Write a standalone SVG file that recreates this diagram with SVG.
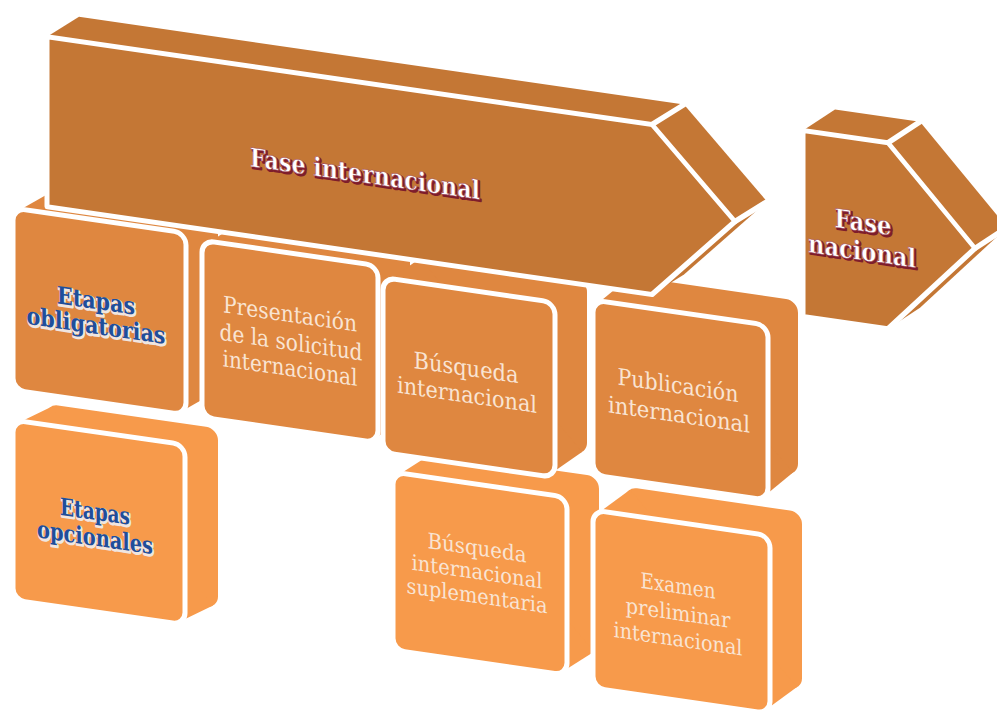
<svg xmlns="http://www.w3.org/2000/svg" width="997" height="710" viewBox="0 0 997 710">
  <style>
    .row1 { fill: #DF8740; }
    .row2 { fill: #F79A4B; }
    .phase { fill: #C47735; }
    .front { stroke: #FFFFFF; stroke-width: 5; stroke-linejoin: round; }
    .edge { fill: none; stroke: #FFFFFF; stroke-width: 5; stroke-linecap: round; }
    .lbl { font-family: "DejaVu Serif", "Liberation Serif", serif; font-size: 23px; fill: #F9E4D3; text-anchor: middle; }
    .sm { font-size: 21.5px; }
    .blue { font-family: "DejaVu Serif", "Liberation Serif", serif; font-weight: bold; font-size: 24px; text-anchor: middle; }
    .blue-sh { fill: #EFE6E0; stroke: #EFE6E0; stroke-width: 2.5; stroke-linejoin: round; }
    .blue-fg { fill: #1F4E9A; }
    .red { font-family: "DejaVu Serif", "Liberation Serif", serif; font-weight: bold; font-size: 26px; text-anchor: middle; }
    .red-sh { fill: #7E1D2B; stroke: #7E1D2B; stroke-width: 2; stroke-linejoin: round; }
    .red-fg { fill: #FFFFFF; stroke: #A04452; stroke-width: 0.5; }
  </style>

  <!-- whole scene is drawn on a sheared plane to give the perspective slope -->
  <g transform="matrix(1 0.145 0 1 0 0)">

    <!-- lower row: optional stages -->
    <g id="etapas-opcionales">
      <rect class="row2" x="46" y="397" width="172" height="180" rx="12"/>
      <polygon class="row2" points="18,420.5 51,399.5 213,574.5 180,595.5"/>
      <rect class="row2 front" x="13" y="418" width="172" height="180" rx="12"/>
      <text class="blue blue-sh" x="96" y="507.5" textLength="70" lengthAdjust="spacingAndGlyphs">Etapas</text>
      <text class="blue blue-fg" x="95" y="506" textLength="70" lengthAdjust="spacingAndGlyphs">Etapas</text>
      <text class="blue blue-sh" x="96" y="533.5" textLength="116" lengthAdjust="spacingAndGlyphs">opcionales</text>
      <text class="blue blue-fg" x="95" y="532" textLength="116" lengthAdjust="spacingAndGlyphs">opcionales</text>
    </g>

    <g id="busqueda-suplementaria">
      <rect class="row2" x="425" y="390" width="174" height="178" rx="12"/>
      <polygon class="row2" points="398,417.5 430,392.5 594,565.5 562,590.5"/>
      <rect class="row2 front" x="393" y="415" width="174" height="178" rx="12"/>
      <text class="lbl sm" x="477" y="486" textLength="99" lengthAdjust="spacingAndGlyphs">Búsqueda</text>
      <text class="lbl sm" x="477" y="510" textLength="131" lengthAdjust="spacingAndGlyphs">internacional</text>
      <text class="lbl sm" x="477" y="534" textLength="141" lengthAdjust="spacingAndGlyphs">suplementaria</text>
    </g>

    <g id="examen-preliminar">
      <rect class="row2" x="625" y="396" width="177" height="178" rx="12"/>
      <polygon class="row2" points="598,426.5 630,398.5 797,571.5 765,599.5"/>
      <rect class="row2 front" x="593" y="424" width="177" height="178" rx="12"/>
      <text class="lbl sm" x="678" y="495" textLength="75" lengthAdjust="spacingAndGlyphs">Examen</text>
      <text class="lbl sm" x="678" y="522" textLength="105" lengthAdjust="spacingAndGlyphs">preliminar</text>
      <text class="lbl sm" x="678" y="548" textLength="129" lengthAdjust="spacingAndGlyphs">internacional</text>
    </g>

    <!-- upper row: mandatory stages -->
    <g id="etapas-obligatorias">
      <rect class="row1" x="45" y="183" width="173" height="182" rx="12"/>
      <polygon class="row1" points="18,208.5 50,185.5 213,362.5 181,385.5"/>
      <rect class="row1 front" x="13" y="206" width="173" height="182" rx="12"/>
      <text class="blue blue-sh" x="97" y="296.5" textLength="78" lengthAdjust="spacingAndGlyphs">Etapas</text>
      <text class="blue blue-fg" x="96" y="295" textLength="78" lengthAdjust="spacingAndGlyphs">Etapas</text>
      <text class="blue blue-sh" x="97" y="321.5" textLength="139" lengthAdjust="spacingAndGlyphs">obligatorias</text>
      <text class="blue blue-fg" x="96" y="320" textLength="139" lengthAdjust="spacingAndGlyphs">obligatorias</text>
    </g>

    <g id="presentacion">
      <rect class="row1" x="234" y="186" width="176" height="177" rx="12"/>
      <polygon class="row1" points="207,213.5 239,188.5 405,360.5 373,385.5"/>
      <rect class="row1 front" x="202" y="211" width="176" height="177" rx="12"/>
      <text class="lbl" x="290" y="280" textLength="134" lengthAdjust="spacingAndGlyphs">Presentación</text>
      <text class="lbl" x="291" y="308" textLength="143" lengthAdjust="spacingAndGlyphs">de la solicitud</text>
      <text class="lbl" x="290" y="334" textLength="135" lengthAdjust="spacingAndGlyphs">internacional</text>
    </g>

    <g id="busqueda-internacional">
      <rect class="row1" x="415" y="195" width="172" height="175" rx="12"/>
      <polygon class="row1" points="388,224.5 420,197.5 582,367.5 550,394.5"/>
      <rect class="row1 front" x="383" y="222" width="172" height="175" rx="12"/>
      <text class="lbl" x="466" y="308" textLength="105" lengthAdjust="spacingAndGlyphs">Búsqueda</text>
      <text class="lbl" x="467" y="335" textLength="140" lengthAdjust="spacingAndGlyphs">internacional</text>
    </g>

    <g id="publicacion">
      <rect class="row1" x="623" y="185" width="175" height="175" rx="12"/>
      <polygon class="row1" points="598,216.5 628,187.5 793,357.5 763,386.5"/>
      <rect class="row1 front" x="593" y="214" width="175" height="175" rx="12"/>
      <text class="lbl" x="678" y="295" textLength="121" lengthAdjust="spacingAndGlyphs">Publicación</text>
      <text class="lbl" x="679" y="324" textLength="142" lengthAdjust="spacingAndGlyphs">internacional</text>
    </g>

    <!-- phase arrows -->
    <g id="fase-internacional">
      <polygon class="phase" points="47,30 652,30 684,5.4 79,5.4"/>
      <polygon class="phase" points="652,30 735,115 767,90.4 684,5.4"/>
      <polygon class="phase" points="735,115 652,200 684,175.4 767,90.4"/>
      <polygon class="phase front" points="47,30 652,30 735,115 652,200 47,200"/>
      <line class="edge" x1="652" y1="30" x2="684" y2="5.4"/>
      <line class="edge" x1="735" y1="115" x2="767" y2="90.4"/>
      <text class="red red-sh" x="366.5" y="131.5" textLength="230" lengthAdjust="spacingAndGlyphs">Fase internacional</text>
      <text class="red red-fg" x="365" y="130" textLength="230" lengthAdjust="spacingAndGlyphs">Fase internacional</text>
    </g>

    <g id="fase-nacional">
      <polygon class="phase" points="803,14 888,14 920,-11.6 835,-11.6"/>
      <polygon class="phase" points="888,14 975,107 1007,81.4 920,-11.6"/>
      <polygon class="phase" points="975,107 888,200 920,174.4 1007,81.4"/>
      <polygon class="phase front" points="803,14 888,14 975,107 888,200 803,200"/>
      <line class="edge" x1="888" y1="14" x2="920" y2="-11.6"/>
      <line class="edge" x1="975" y1="107" x2="1007" y2="81.4"/>
      <text class="red red-sh" x="864.5" y="107.5" textLength="57" lengthAdjust="spacingAndGlyphs">Fase</text>
      <text class="red red-fg" x="863" y="106" textLength="57" lengthAdjust="spacingAndGlyphs">Fase</text>
      <text class="red red-sh" x="863.5" y="136.5" textLength="108" lengthAdjust="spacingAndGlyphs">nacional</text>
      <text class="red red-fg" x="862" y="135" textLength="108" lengthAdjust="spacingAndGlyphs">nacional</text>
    </g>
  </g>
</svg>
